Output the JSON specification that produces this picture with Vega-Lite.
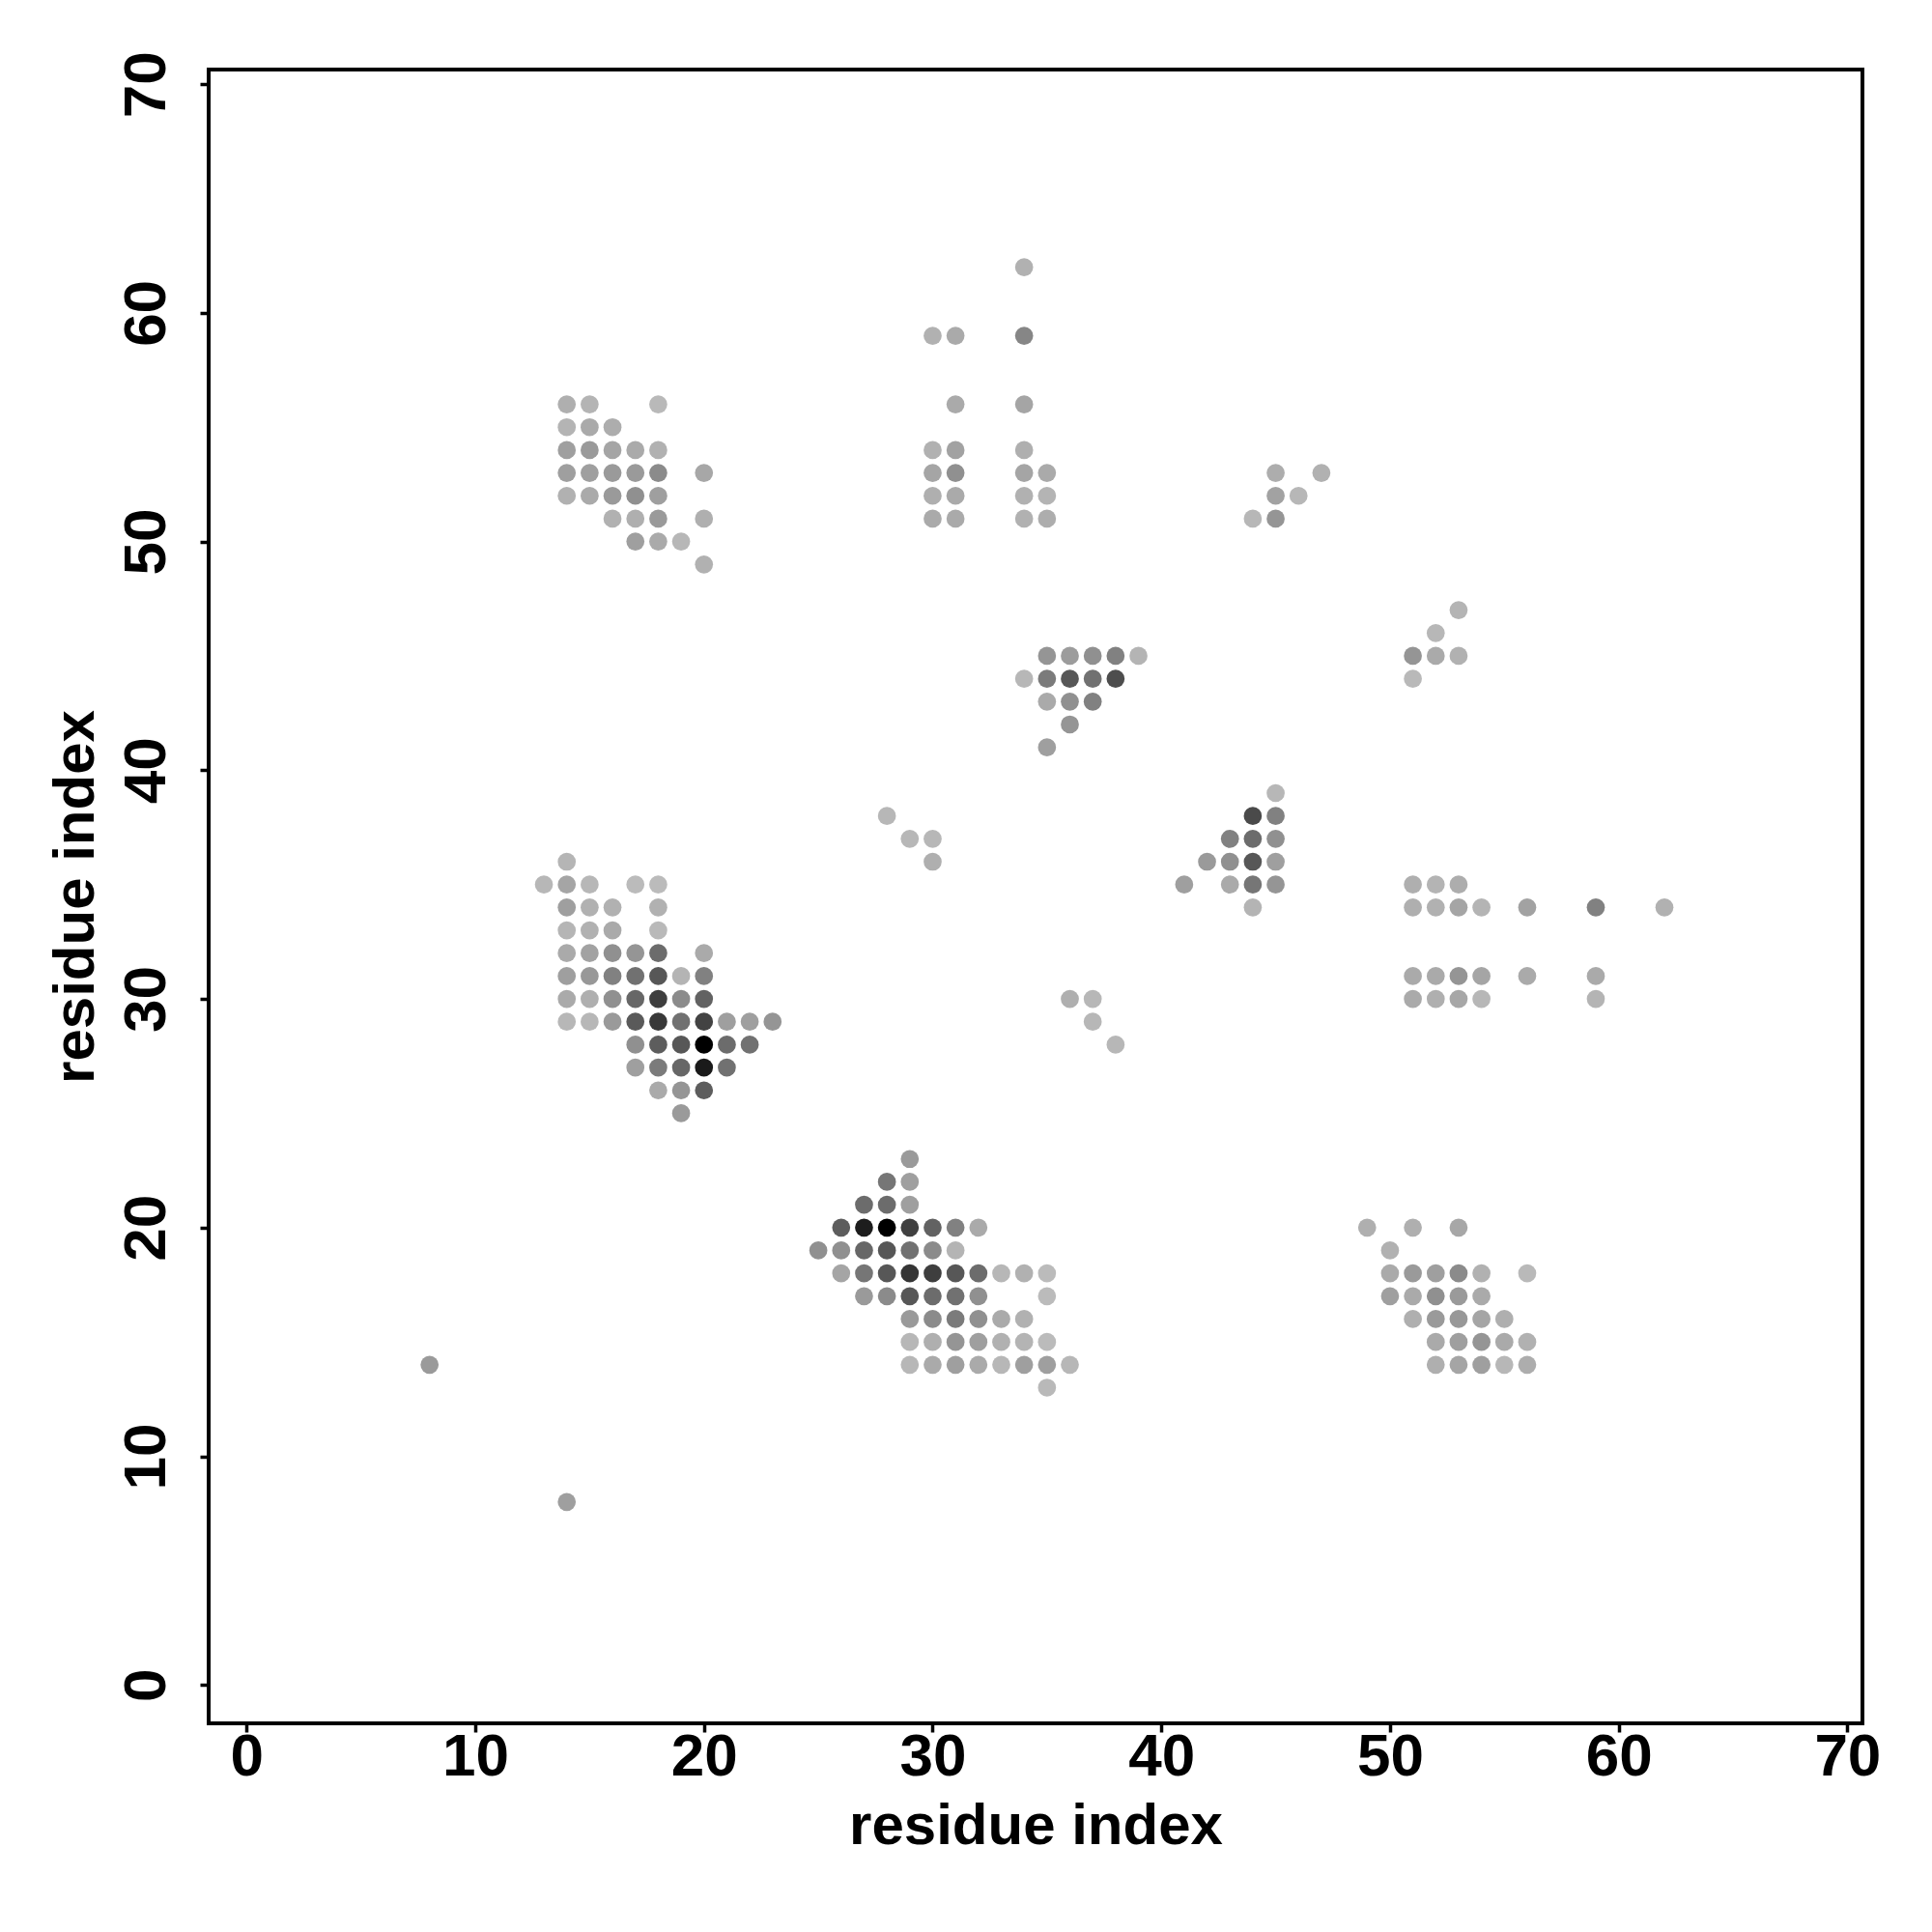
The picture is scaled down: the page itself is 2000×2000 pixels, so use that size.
{"$schema":"https://vega.github.io/schema/vega-lite/v6.json","width":1712,"height":1712,"autosize":{"type":"none"},"padding":{"left":216,"top":72,"right":72,"bottom":216},"background":"white","config":{"view":{"stroke":"black","strokeWidth":4},"font":"Liberation Sans"},"data":{"values":[
{"x":14,"y":36,"g":176},{"x":13,"y":35,"g":178},{"x":14,"y":35,"g":160},{"x":15,"y":35,"g":178},{"x":17,"y":35,"g":182},{"x":18,"y":35,"g":182},
{"x":14,"y":34,"g":155},{"x":15,"y":34,"g":172},{"x":16,"y":34,"g":172},{"x":18,"y":34,"g":172},
{"x":14,"y":33,"g":176},{"x":15,"y":33,"g":172},{"x":16,"y":33,"g":165},{"x":18,"y":33,"g":180},
{"x":14,"y":32,"g":165},{"x":15,"y":32,"g":158},{"x":16,"y":32,"g":140},{"x":17,"y":32,"g":145},{"x":18,"y":32,"g":105},{"x":20,"y":32,"g":165},
{"x":14,"y":31,"g":155},{"x":15,"y":31,"g":148},{"x":16,"y":31,"g":125},{"x":17,"y":31,"g":110},{"x":18,"y":31,"g":85},{"x":19,"y":31,"g":175},{"x":20,"y":31,"g":125},
{"x":14,"y":30,"g":165},{"x":15,"y":30,"g":170},{"x":16,"y":30,"g":140},{"x":17,"y":30,"g":100},{"x":18,"y":30,"g":60},{"x":19,"y":30,"g":135},{"x":20,"y":30,"g":95},
{"x":14,"y":29,"g":178},{"x":15,"y":29,"g":178},{"x":16,"y":29,"g":150},{"x":17,"y":29,"g":88},{"x":18,"y":29,"g":55},{"x":19,"y":29,"g":110},{"x":20,"y":29,"g":65},{"x":21,"y":29,"g":155},{"x":22,"y":29,"g":155},{"x":23,"y":29,"g":145},
{"x":17,"y":28,"g":140},{"x":18,"y":28,"g":90},{"x":19,"y":28,"g":85},{"x":20,"y":28,"g":0},{"x":21,"y":28,"g":105},{"x":22,"y":28,"g":110},
{"x":17,"y":27,"g":155},{"x":18,"y":27,"g":120},{"x":19,"y":27,"g":100},{"x":20,"y":27,"g":25},{"x":21,"y":27,"g":110},
{"x":18,"y":26,"g":165},{"x":19,"y":26,"g":145},{"x":20,"y":26,"g":90},{"x":19,"y":25,"g":150},
{"x":29,"y":23,"g":150},{"x":28,"y":22,"g":115},{"x":29,"y":22,"g":155},{"x":27,"y":21,"g":105},{"x":28,"y":21,"g":105},{"x":29,"y":21,"g":155},
{"x":26,"y":20,"g":90},{"x":27,"y":20,"g":28},{"x":28,"y":20,"g":0},{"x":29,"y":20,"g":62},{"x":30,"y":20,"g":95},{"x":31,"y":20,"g":125},{"x":32,"y":20,"g":165},
{"x":25,"y":19,"g":140},{"x":26,"y":19,"g":140},{"x":27,"y":19,"g":100},{"x":28,"y":19,"g":85},{"x":29,"y":19,"g":110},{"x":30,"y":19,"g":135},{"x":31,"y":19,"g":175},
{"x":26,"y":18,"g":160},{"x":27,"y":18,"g":115},{"x":28,"y":18,"g":85},{"x":29,"y":18,"g":52},{"x":30,"y":18,"g":60},{"x":31,"y":18,"g":85},{"x":32,"y":18,"g":105},{"x":33,"y":18,"g":178},{"x":34,"y":18,"g":172},{"x":35,"y":18,"g":182},
{"x":27,"y":17,"g":150},{"x":28,"y":17,"g":135},{"x":29,"y":17,"g":85},{"x":30,"y":17,"g":105},{"x":31,"y":17,"g":110},{"x":32,"y":17,"g":140},{"x":35,"y":17,"g":182},
{"x":29,"y":16,"g":150},{"x":30,"y":16,"g":135},{"x":31,"y":16,"g":120},{"x":32,"y":16,"g":140},{"x":33,"y":16,"g":165},{"x":34,"y":16,"g":172},
{"x":29,"y":15,"g":178},{"x":30,"y":15,"g":170},{"x":31,"y":15,"g":145},{"x":32,"y":15,"g":155},{"x":33,"y":15,"g":172},{"x":34,"y":15,"g":175},{"x":35,"y":15,"g":182},
{"x":29,"y":14,"g":178},{"x":30,"y":14,"g":165},{"x":31,"y":14,"g":155},{"x":32,"y":14,"g":165},{"x":33,"y":14,"g":178},{"x":34,"y":14,"g":155},{"x":35,"y":14,"g":155},{"x":36,"y":14,"g":178},{"x":35,"y":13,"g":180},
{"x":8,"y":14,"g":150},{"x":14,"y":8,"g":155},
{"x":14,"y":56,"g":170},{"x":15,"y":56,"g":175},{"x":18,"y":56,"g":180},
{"x":14,"y":55,"g":175},{"x":15,"y":55,"g":165},{"x":16,"y":55,"g":168},
{"x":14,"y":54,"g":155},{"x":15,"y":54,"g":150},{"x":16,"y":54,"g":160},{"x":17,"y":54,"g":165},{"x":18,"y":54,"g":172},
{"x":14,"y":53,"g":155},{"x":15,"y":53,"g":155},{"x":16,"y":53,"g":150},{"x":17,"y":53,"g":150},{"x":18,"y":53,"g":135},{"x":20,"y":53,"g":162},
{"x":14,"y":52,"g":172},{"x":15,"y":52,"g":165},{"x":16,"y":52,"g":150},{"x":17,"y":52,"g":140},{"x":18,"y":52,"g":155},
{"x":16,"y":51,"g":172},{"x":17,"y":51,"g":170},{"x":18,"y":51,"g":150},{"x":20,"y":51,"g":170},
{"x":17,"y":50,"g":155},{"x":18,"y":50,"g":165},{"x":19,"y":50,"g":178},{"x":20,"y":49,"g":172},
{"x":49,"y":20,"g":170},{"x":51,"y":20,"g":170},{"x":53,"y":20,"g":162},{"x":50,"y":19,"g":172},
{"x":50,"y":18,"g":165},{"x":51,"y":18,"g":150},{"x":52,"y":18,"g":155},{"x":53,"y":18,"g":135},{"x":54,"y":18,"g":172},{"x":56,"y":18,"g":180},
{"x":50,"y":17,"g":155},{"x":51,"y":17,"g":165},{"x":52,"y":17,"g":140},{"x":53,"y":17,"g":150},{"x":54,"y":17,"g":165},
{"x":51,"y":16,"g":170},{"x":52,"y":16,"g":150},{"x":53,"y":16,"g":148},{"x":54,"y":16,"g":160},{"x":55,"y":16,"g":170},
{"x":52,"y":15,"g":165},{"x":53,"y":15,"g":155},{"x":54,"y":15,"g":145},{"x":55,"y":15,"g":165},{"x":56,"y":15,"g":172},
{"x":52,"y":14,"g":170},{"x":53,"y":14,"g":160},{"x":54,"y":14,"g":155},{"x":55,"y":14,"g":178},{"x":56,"y":14,"g":168},
{"x":34,"y":62,"g":172},{"x":30,"y":59,"g":172},{"x":31,"y":59,"g":165},{"x":34,"y":59,"g":130},{"x":31,"y":56,"g":165},{"x":34,"y":56,"g":160},
{"x":30,"y":54,"g":172},{"x":31,"y":54,"g":158},{"x":34,"y":54,"g":170},
{"x":30,"y":53,"g":160},{"x":31,"y":53,"g":140},{"x":34,"y":53,"g":160},{"x":35,"y":53,"g":165},
{"x":30,"y":52,"g":170},{"x":31,"y":52,"g":165},{"x":34,"y":52,"g":172},{"x":35,"y":52,"g":175},
{"x":30,"y":51,"g":165},{"x":31,"y":51,"g":165},{"x":34,"y":51,"g":172},{"x":35,"y":51,"g":168},{"x":44,"y":51,"g":178},{"x":45,"y":51,"g":145},
{"x":45,"y":53,"g":168},{"x":47,"y":53,"g":172},{"x":45,"y":52,"g":158},{"x":46,"y":52,"g":178},
{"x":35,"y":45,"g":145},{"x":36,"y":45,"g":152},{"x":37,"y":45,"g":140},{"x":38,"y":45,"g":125},{"x":39,"y":45,"g":175},
{"x":34,"y":44,"g":178},{"x":35,"y":44,"g":120},{"x":36,"y":44,"g":85},{"x":37,"y":44,"g":110},{"x":38,"y":44,"g":75},
{"x":35,"y":43,"g":165},{"x":36,"y":43,"g":140},{"x":37,"y":43,"g":125},{"x":36,"y":42,"g":145},{"x":35,"y":41,"g":155},
{"x":53,"y":47,"g":175},{"x":52,"y":46,"g":178},{"x":51,"y":45,"g":145},{"x":52,"y":45,"g":165},{"x":53,"y":45,"g":172},{"x":51,"y":44,"g":180},
{"x":45,"y":39,"g":178},{"x":44,"y":38,"g":72},{"x":45,"y":38,"g":125},{"x":43,"y":37,"g":125},{"x":44,"y":37,"g":105},{"x":45,"y":37,"g":140},
{"x":42,"y":36,"g":150},{"x":43,"y":36,"g":140},{"x":44,"y":36,"g":85},{"x":45,"y":36,"g":155},
{"x":41,"y":35,"g":155},{"x":43,"y":35,"g":165},{"x":44,"y":35,"g":115},{"x":45,"y":35,"g":145},{"x":44,"y":34,"g":175},
{"x":51,"y":35,"g":170},{"x":52,"y":35,"g":175},{"x":53,"y":35,"g":168},
{"x":51,"y":34,"g":170},{"x":52,"y":34,"g":172},{"x":53,"y":34,"g":160},{"x":54,"y":34,"g":175},{"x":56,"y":34,"g":158},{"x":59,"y":34,"g":125},{"x":62,"y":34,"g":172},
{"x":51,"y":31,"g":165},{"x":52,"y":31,"g":165},{"x":53,"y":31,"g":145},{"x":54,"y":31,"g":160},{"x":56,"y":31,"g":165},{"x":59,"y":31,"g":165},
{"x":51,"y":30,"g":165},{"x":52,"y":30,"g":170},{"x":53,"y":30,"g":162},{"x":54,"y":30,"g":178},{"x":59,"y":30,"g":175},
{"x":28,"y":38,"g":178},{"x":29,"y":37,"g":178},{"x":30,"y":37,"g":178},{"x":30,"y":36,"g":170},
{"x":36,"y":30,"g":170},{"x":37,"y":30,"g":178},{"x":37,"y":29,"g":178},{"x":38,"y":28,"g":178}
]},
"mark":{"type":"point","filled":true,"shape":"circle","size":350,"opacity":1,"strokeWidth":0},
"encoding":{
"x":{"field":"x","type":"quantitative","scale":{"domain":[-1.66,70.66],"nice":false,"zero":false},"axis":{"title":"residue index","values":[0,10,20,30,40,50,60,70],"grid":false,"domain":false,"tickColor":"black","tickWidth":3.5,"tickSize":9,"labelColor":"black","labelFont":"Liberation Sans","labelFontSize":62,"labelFontWeight":"bold","labelPadding":-5,"labelOverlap":false,"labelFlush":false,"labelBound":false,"titleFont":"Liberation Sans","titleFontSize":60,"titleFontWeight":"bold","titleColor":"black","titlePadding":12.5}},
"y":{"field":"y","type":"quantitative","scale":{"domain":[-1.68,70.64],"nice":false,"zero":false},"axis":{"title":"residue index","values":[0,10,20,30,40,50,60,70],"grid":false,"domain":false,"tickColor":"black","tickWidth":3.5,"tickSize":9,"labelColor":"black","labelFont":"Liberation Sans","labelFontSize":62,"labelFontWeight":"bold","labelAngle":-90,"labelAlign":"center","labelBaseline":"bottom","labelPadding":24,"labelOverlap":false,"labelFlush":false,"labelBound":false,"titleFont":"Liberation Sans","titleFontSize":60,"titleFontWeight":"bold","titleColor":"black","titlePadding":11}},
"color":{"field":"g","type":"quantitative","legend":null,"scale":{"domain":[0,248],"range":["#000000","#ffffff"],"interpolate":"rgb"}}
}}
